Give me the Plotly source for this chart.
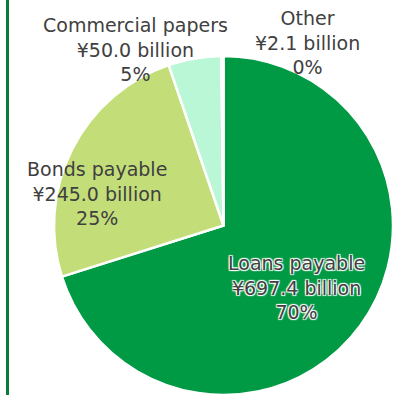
import plotly.graph_objects as go

# Interest-bearing debt breakdown (¥ billion)
labels = ["Loans payable", "Bonds payable", "Commercial papers", "Other"]
values = [697.4, 245.0, 50.0, 2.1]
colors = ["#009944", "#C3DE79", "#B9F7D7", "#FFFFFF"]

W, H = 393, 395
total = sum(values)

fig = go.Figure(
    go.Pie(
        labels=labels,
        values=values,
        sort=False,
        direction="clockwise",
        rotation=0,
        marker=dict(colors=colors, line=dict(color="#FFFFFF", width=2.5)),
        textinfo="none",
        hoverinfo="label+value+percent",
        showlegend=False,
        domain=dict(x=[54 / W, 1.0], y=[0.0, 1 - 56 / H]),
    )
)

# label placement (pixel centre of each text block)
label_pos = {
    "Loans payable": (296, 287.5),
    "Bonds payable": (97, 193.5),
    "Commercial papers": (135, 49.5),
    "Other": (307, 42.5),
}

text_color = "#404040"
for lab, val in zip(labels, values):
    px, py = label_pos[lab]
    font = dict(family="DejaVu Sans", size=19, color=text_color)
    if lab == "Loans payable":
        font["shadow"] = ("1px 1px 1px #ffffff, -1px -1px 1px #ffffff, "
                          "1px -1px 1px #ffffff, -1px 1px 1px #ffffff")
    fig.add_annotation(
        x=px / W, y=1 - py / H, xref="paper", yref="paper",
        text=f"{lab}<br>¥{val:.1f} billion<br>{val / total:.0%}",
        showarrow=False, xanchor="center", yanchor="middle", align="center",
        font=font,
    )

# left rule
fig.add_shape(
    type="line", xref="paper", yref="paper",
    x0=7.5 / W, x1=7.5 / W, y0=0, y1=1,
    line=dict(color="#0B7B3B", width=3),
)

fig.update_layout(
    width=W, height=H,
    margin=dict(l=0, r=0, t=0, b=0),
    paper_bgcolor="#FFFFFF",
    plot_bgcolor="#FFFFFF",
)

fig.write_html("out.html")
